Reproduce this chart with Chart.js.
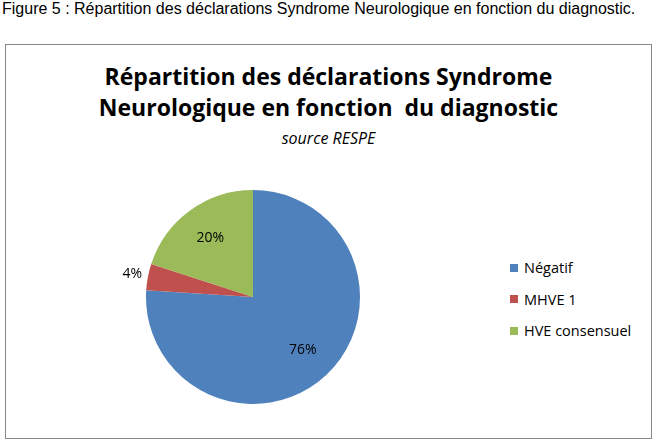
<!DOCTYPE html>
<html><head><meta charset="utf-8">
<script src="https://cdn.jsdelivr.net/npm/chart.js@4"></script>
<style>
body{margin:0;background:#fff;width:657px;height:445px;position:relative;overflow:hidden;font-family:"Open Sans",sans-serif}
#cap{position:absolute;left:2px;top:0px;font:16px "Liberation Sans",Arial,sans-serif;color:#000}
#box{position:absolute;left:5px;top:44px;width:645px;height:393px;border:1px solid #888}
#title{position:absolute;left:0;width:657px;top:61px;text-align:center;font:bold 23px "Open Sans",sans-serif;line-height:31px;color:#000}
#sub{position:absolute;left:0;width:657px;top:127px;text-align:center;font:italic 16px "Open Sans",sans-serif;color:#000}
#cw{position:absolute;left:103px;top:147px;width:300px;height:300px}
#leg{position:absolute;left:510px;top:252px;font:14.5px "Open Sans",sans-serif;color:#000}
#leg div{height:31.5px;display:flex;align-items:center}
#leg span{display:inline-block;width:8px;height:8px;margin-right:6px}
</style></head><body>
<div id="cap">Figure 5 : Répartition des déclarations Syndrome Neurologique en fonction du diagnostic.</div>
<div id="box"></div>
<div id="title">Répartition des déclarations Syndrome<br>Neurologique en fonction&nbsp; du diagnostic</div>
<div id="sub">source RESPE</div>
<div id="cw"><canvas id="c"></canvas></div>
<div id="leg"></div>
<script>
const categories=["Négatif","MHVE 1","HVE consensuel"];
const values=[76,4,20];
const colors=["#4F81BD","#C0504D","#9BBB59"];
const leg=document.getElementById('leg');
categories.forEach((c,i)=>{const d=document.createElement('div');d.innerHTML='<span style="background:'+colors[i]+'"></span>'+c;leg.appendChild(d);});
const labelPlugin={id:'lbl',afterDatasetsDraw(ch){const ctx=ch.ctx;const meta=ch.getDatasetMeta(0);
ctx.save();ctx.font='14px "Open Sans",sans-serif';ctx.fillStyle='#000';ctx.textAlign='center';ctx.textBaseline='middle';
meta.data.forEach((a,i)=>{const mid=(a.startAngle+a.endAngle)/2;let r=values[i]<10?a.outerRadius+16:a.outerRadius*0.68;
ctx.fillText(values[i]+'%',a.x+Math.cos(mid)*r,a.y+Math.sin(mid)*r);});ctx.restore();}};
new Chart(document.getElementById('c'),{type:'pie',data:{labels:categories,datasets:[{data:values,backgroundColor:colors,borderColor:'#fff',borderWidth:0}]},
options:{responsive:true,maintainAspectRatio:false,animation:false,layout:{padding:43},plugins:{legend:{display:false},tooltip:{enabled:false}}},plugins:[labelPlugin]});
</script></body></html>
